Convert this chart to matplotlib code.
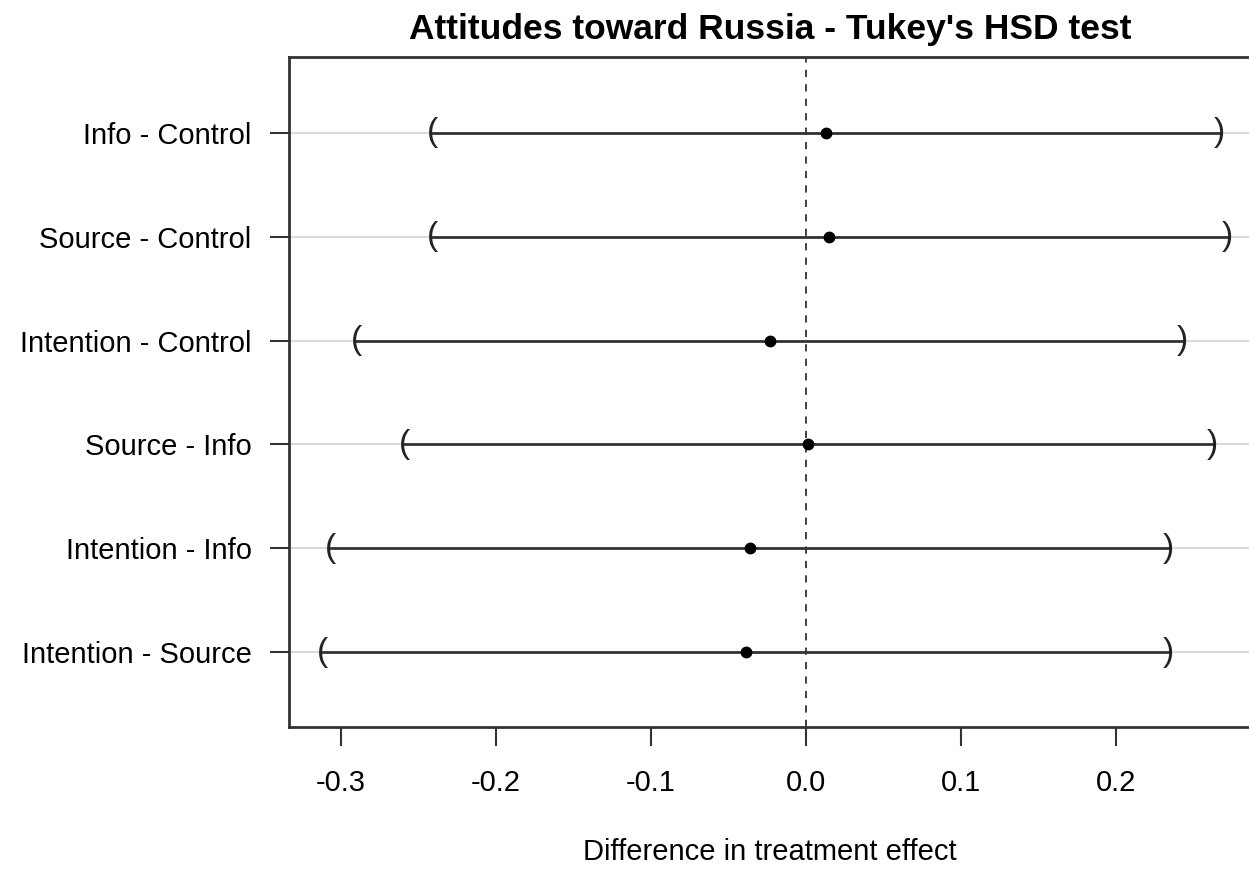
import numpy as np
import matplotlib.pyplot as plt

plt.rcParams['font.family'] = ['Liberation Sans', 'DejaVu Sans']

# Tukey HSD comparisons (top to bottom)
comparisons = ['Info - Control', 'Source - Control', 'Intention - Control',
               'Source - Info', 'Intention - Info', 'Intention - Source']
estimate = [0.013, 0.015, -0.023, 0.001, -0.036, -0.039]
lower = [-0.241, -0.241, -0.290, -0.259, -0.307, -0.312]
upper = [0.267, 0.272, 0.243, 0.262, 0.234, 0.234]
xticks = [-0.3, -0.2, -0.1, 0.0, 0.1, 0.2]

W, H = 1249, 871
fig = plt.figure(figsize=(W / 100, H / 100), dpi=100)
ax = fig.add_axes([289 / W, 1 - 727 / H, (W - 289) / W, (727 - 57) / H])

n = len(comparisons)
ypos = np.arange(n, 0, -1)
dark = '#333333'

for y in ypos:
    ax.axhline(y, color='#dadada', lw=1.5, zorder=1)

ax.axvline(0, color=dark, lw=1.3, ls=(0, (4, 4)), zorder=2)

for y, lo, hi, est in zip(ypos, lower, upper, estimate):
    ax.plot([lo, hi], [y, y], color=dark, lw=2, zorder=3)
    ax.text(lo, y, '(', ha='center', va='center', fontsize=24, color='#222222', zorder=4)
    ax.text(hi, y, ')', ha='center', va='center', fontsize=24, color='#222222', zorder=4)
    ax.plot(est, y, 'o', color='black', ms=7.5, zorder=5)

ax.set_xlim(-0.3335, 0.2858)
ax.set_ylim(0.28, 6.73)

ax.set_xticks(xticks)
ax.set_xticklabels(['%.1f' % v for v in xticks], fontsize=21)
ax.set_yticks(ypos)
ax.set_yticklabels(comparisons, fontsize=21)
ax.tick_params(axis='x', length=14, width=1.5, color=dark, pad=16)
ax.tick_params(axis='y', length=14, width=1.5, color=dark, pad=13)

for side in ['left', 'top', 'bottom']:
    ax.spines[side].set_color(dark)
    ax.spines[side].set_linewidth(2)
ax.spines['right'].set_visible(False)

ax.set_xlabel('Difference in treatment effect', fontsize=21)
ax.xaxis.set_label_coords((770 - 289) / 960, (727 - 852) / 670)
ax.xaxis.label.set_va('center')
fig.text(770 / W, 1 - 30 / H, "Attitudes toward Russia - Tukey's HSD test",
         ha='center', va='center', fontsize=25.5, fontweight='bold')

fig.savefig('out.png', dpi=100)
